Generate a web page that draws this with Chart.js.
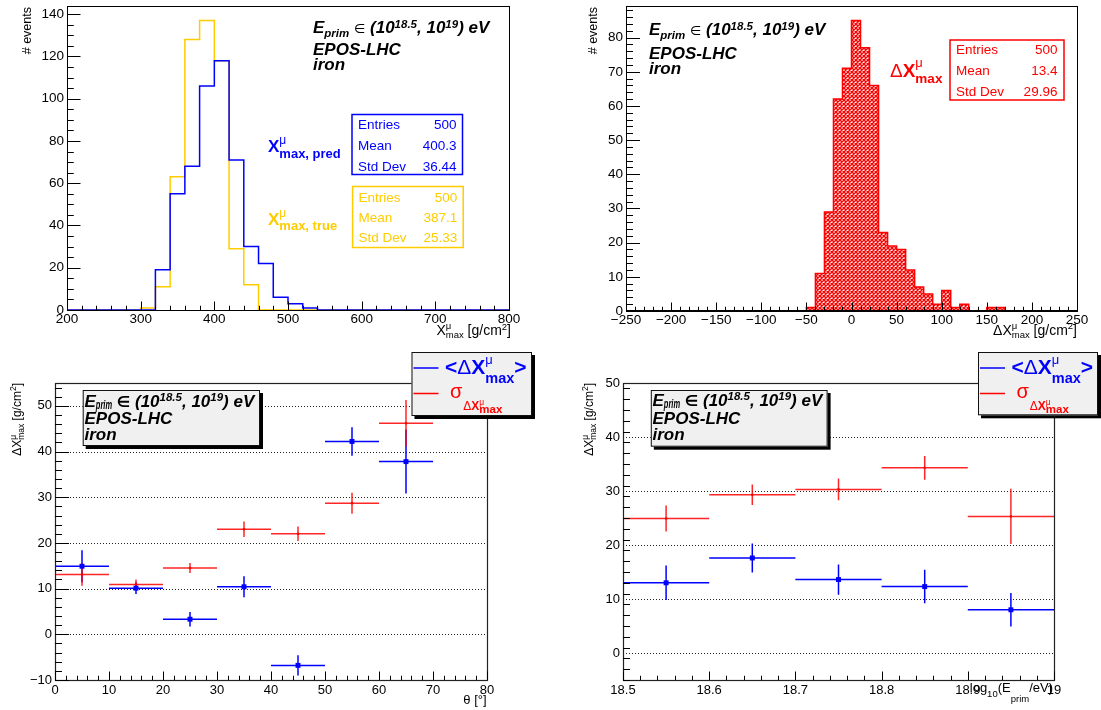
<!DOCTYPE html>
<html>
<head>
<meta charset="utf-8">
<script src="https://cdn.jsdelivr.net/npm/chart.js@4.4.1/dist/chart.umd.min.js"></script>
<style>
  html, body { margin: 0; padding: 0; background: #fff; }
  #wrap { position: relative; width: 1101px; height: 710px; overflow: hidden; background: #fff; }
  #wrap canvas { position: absolute; left: 0; top: 0; }
</style>
</head>
<body>
<div id="wrap">
  <canvas id="cXmax" width="1101" height="710"></canvas>
  <canvas id="cDelta" width="1101" height="710"></canvas>
  <canvas id="cTheta" width="1101" height="710"></canvas>
  <canvas id="cEnergy" width="1101" height="710"></canvas>
</div>
<script>
// ---------- data ----------
// X_max^mu histograms: bin edges [g/cm^2] and counts per bin
const xmaxEdges = [200, 220, 240, 260, 280, 300, 320, 340, 360, 380, 400, 420, 440, 460, 480, 500,
                   520, 540, 560, 580, 600, 620, 640, 660, 680, 700, 720, 740, 760, 780, 800];
const xmaxPred = [0, 0, 0, 0, 0, 0, 19, 55, 68, 106, 118, 71, 30, 22, 6, 3,
                  1, 0, 0, 0, 0, 0, 0, 0, 0, 0, 0, 0, 0, 0];
const xmaxTrue = [0, 0, 0, 0, 0, 1, 11, 63, 128, 137, 118, 29, 12, 0, 0, 0,
                  0, 0, 0, 0, 0, 0, 0, 0, 0, 0, 0, 0, 0, 0];
const predStats = ['500', '400.3', '36.44'];
const trueStats = ['500', '387.1', '25.33'];

// Delta X_max^mu histogram
const dxEdges = [-250, -240, -230, -220, -210, -200, -190, -180, -170, -160, -150, -140, -130, -120, -110,
                 -100, -90, -80, -70, -60, -50, -40, -30, -20, -10, 0, 10, 20, 30, 40, 50, 60, 70, 80, 90,
                 100, 110, 120, 130, 140, 150, 160, 170, 180, 190, 200, 210, 220, 230, 240, 250];
const dxCounts = [0, 0, 0, 0, 0, 0, 0, 0, 0, 0, 0, 0, 0, 0, 0, 0, 0, 0, 0, 0,
                  1, 11, 29, 62, 71, 85, 77, 66, 23, 19, 18, 12, 7, 5, 2, 6, 1, 2, 0, 0, 1, 1,
                  0, 0, 0, 0, 0, 0, 0, 0];
const dxStats = ['500', '13.4', '29.96'];
const statNames = ['Entries', 'Mean', 'Std Dev'];

// bias and resolution vs zenith angle
const thetaEdges = [0, 10, 20, 30, 40, 50, 60, 70];
const thetaMean = [14.9, 10.1, 3.3, 10.4, -6.8, 42.2, 37.8];
const thetaMeanErr = [3.5, 1.3, 1.6, 2.3, 2.2, 3.1, 7.0];
const thetaSigma = [13.1, 10.9, 14.5, 23.0, 22.0, 28.7, 46.2];
const thetaSigmaErr = [2.5, 1.1, 1.1, 1.7, 1.6, 2.3, 5.1];

// bias and resolution vs primary energy
const energyEdges = [18.5, 18.6, 18.7, 18.8, 18.9, 19.0];
const energyMean = [13.0, 17.6, 13.6, 12.3, 8.0];
const energyMeanErr = [3.2, 2.7, 2.8, 3.1, 3.1];
const energySigma = [24.9, 29.3, 30.3, 34.3, 25.3];
const energySigmaErr = [2.4, 1.9, 2.0, 2.2, 5.1];

// tick labels
const xmaxTicksX = [200, 300, 400, 500, 600, 700, 800];
const xmaxTicksY = [0, 20, 40, 60, 80, 100, 120, 140];
const dxTicksX = [-250, -200, -150, -100, -50, 0, 50, 100, 150, 200, 250];
const dxTicksY = [0, 10, 20, 30, 40, 50, 60, 70, 80];
const thetaTicksX = [0, 10, 20, 30, 40, 50, 60, 70, 80];
const thetaTicksY = [-10, 0, 10, 20, 30, 40, 50];
const energyTicksX = [18.5, 18.6, 18.7, 18.8, 18.9, 19];
const energyTicksY = [0, 10, 20, 30, 40, 50];

const MODEL = 'EPOS-LHC';
const PRIMARY = 'iron';

// ---------- helpers ----------
const FF = '"Liberation Sans", Arial, "DejaVu Sans", sans-serif';
const F = (s, st) => (st ? st + ' ' : '') + s + 'px ' + FF;
const BLUE = '#0000ff', YEL = '#ffcc00', RED = '#ff0000';

const fmtTick = v => (v < 0 ? '\u2212' + Math.abs(v) : String(v));

function rich(ctx, x, y, runs, align) {
  ctx.save();
  ctx.textAlign = 'left';
  ctx.textBaseline = 'alphabetic';
  let total = 0;
  for (const r of runs) {
    ctx.font = r.f;
    r.w = ctx.measureText(r.t).width * (r.sx || 1);
    if (r.adv !== false) total += r.w;
  }
  let cx = align === 'right' ? x - total : x;
  for (const r of runs) {
    ctx.font = r.f;
    if (r.c) ctx.fillStyle = r.c;
    if (r.sx) {
      ctx.save();
      ctx.translate(cx, y + (r.dy || 0));
      ctx.scale(r.sx, 1);
      ctx.fillText(r.t, 0, 0);
      ctx.restore();
    } else {
      ctx.fillText(r.t, cx, y + (r.dy || 0));
    }
    if (r.adv !== false) cx += r.w;
  }
  ctx.restore();
}

function richUp(ctx, bx, top, runs) {
  ctx.save();
  ctx.translate(bx, top);
  ctx.rotate(-Math.PI / 2);
  rich(ctx, 0, 0, runs, 'right');
  ctx.restore();
}

function linAxis(min, max, tickVals, fit, size, pad) {
  return {
    type: 'linear', min, max,
    grid: { display: false, drawTicks: false },
    border: { display: false },
    afterBuildTicks: s => { s.ticks = tickVals.map(v => ({ value: v })); },
    afterFit: fit,
    ticks: {
      autoSkip: false, maxRotation: 0, minRotation: 0, padding: pad, color: '#000',
      font: { family: FF, size }, callback: v => fmtTick(v)
    }
  };
}
const fitY = w => s => { s.width = w; s.paddingTop = 0; s.paddingBottom = 0; };
const fitX = h => s => { s.height = h; s.paddingLeft = 0; s.paddingRight = 0; };

function stepPoints(edges, counts) {
  const pts = [{ x: edges[0], y: 0 }];
  counts.forEach((c, i) => pts.push({ x: edges[i], y: c }));
  pts.push({ x: edges[edges.length - 1], y: 0 });
  return pts;
}

function drawFrame(chart, width, color) {
  const { ctx, chartArea: a } = chart;
  ctx.save();
  ctx.strokeStyle = color || '#000';
  ctx.lineWidth = width || 1;
  ctx.strokeRect(Math.round(a.left) + 0.5, Math.round(a.top) + 0.5,
                 Math.round(a.right - a.left), Math.round(a.bottom - a.top));
  ctx.restore();
}

function drawTicks(chart, t) {
  const { ctx, chartArea: a, scales: { x, y } } = chart;
  const isMajor = (v, m) => m.some(q => Math.abs(q - v) < 1e-6);
  const each = (min, max, step, fn) => {
    const n = Math.floor((max - min) / step + 1e-6);
    for (let k = 0; k <= n; k++) fn(+(min + k * step).toFixed(6));
  };
  ctx.save();
  ctx.strokeStyle = '#000';
  ctx.lineWidth = 1;
  ctx.beginPath();
  each(x.min, x.max, t.xMinor, v => {
    const px = Math.round(x.getPixelForValue(v)) + 0.5;
    const len = isMajor(v, t.xMajors) ? t.xLen : t.xLen / 2;
    ctx.moveTo(px, a.bottom); ctx.lineTo(px, a.bottom - len);
  });
  each(y.min, y.max, t.yMinor, v => {
    const py = Math.round(y.getPixelForValue(v)) + 0.5;
    const len = isMajor(v, t.yMajors) ? t.yLen : t.yLen / 2;
    ctx.moveTo(a.left, py); ctx.lineTo(a.left + len, py);
  });
  ctx.stroke();
  ctx.restore();
}

function dottedGrid(chart, vals) {
  const { ctx, chartArea: a, scales: { y } } = chart;
  ctx.save();
  ctx.strokeStyle = '#222';
  ctx.lineWidth = 1;
  ctx.setLineDash([1, 2]);
  ctx.beginPath();
  vals.forEach(v => {
    const py = Math.round(y.getPixelForValue(v)) + 0.5;
    if (py > a.top + 1 && py < a.bottom - 1) { ctx.moveTo(a.left, py); ctx.lineTo(a.right, py); }
  });
  ctx.stroke();
  ctx.restore();
}

function errorBars(chart, edges, vals, errs, color) {
  const { ctx, scales: { x, y } } = chart;
  ctx.save();
  ctx.strokeStyle = color;
  ctx.lineWidth = 1.5;
  ctx.beginPath();
  vals.forEach((v, i) => {
    const c = (edges[i] + edges[i + 1]) / 2;
    const py = y.getPixelForValue(v), px = x.getPixelForValue(c);
    ctx.moveTo(x.getPixelForValue(edges[i]), py);
    ctx.lineTo(x.getPixelForValue(edges[i + 1]), py);
    ctx.moveTo(px, y.getPixelForValue(v - errs[i]));
    ctx.lineTo(px, y.getPixelForValue(v + errs[i]));
  });
  ctx.stroke();
  ctx.restore();
}

function statsBox(ctx, b) {
  ctx.save();
  ctx.strokeStyle = b.color;
  ctx.lineWidth = 1.5;
  ctx.strokeRect(b.x, b.y, b.w, b.h);
  ctx.fillStyle = b.color;
  ctx.font = F(13.5);
  statNames.forEach((n, i) => {
    ctx.textAlign = 'left'; ctx.fillText(n, b.tx, b.base[i]);
    ctx.textAlign = 'right'; ctx.fillText(b.vals[i], b.vx, b.base[i]);
  });
  ctx.restore();
}

function shadowBox(ctx, x, y, w, h) {
  ctx.save();
  ctx.fillStyle = '#000';
  ctx.fillRect(x + 3, y + 3, w, h);
  ctx.fillStyle = '#f0f0f0';
  ctx.fillRect(x, y, w, h);
  ctx.strokeStyle = '#111';
  ctx.lineWidth = 1;
  ctx.strokeRect(x + 0.5, y + 0.5, w - 1, h - 1);
  ctx.restore();
}

// energy / model / primary annotation
function infoText(ctx, x, bases, boxed) {
  const bi = F(17, 'italic bold'), sm = F(11.5, 'italic bold');
  const line1 = [
    { t: 'E', f: bi },
    boxed ? { t: 'prim', f: F(12.5, 'italic bold'), dy: 2.5, sx: 0.6 } : { t: 'prim', f: sm, dy: 4 },
    { t: ' ', f: bi },
    { t: '\u2208', f: boxed ? F(15, 'bold') : F(13) },
    { t: ' (10', f: bi },
    { t: '18.5', f: sm, dy: -5.5 },
    { t: ', 10', f: bi },
    { t: '19', f: sm, dy: -5.5 },
    { t: ') eV', f: bi }
  ];
  ctx.save();
  ctx.fillStyle = '#000';
  rich(ctx, x, bases[0], line1);
  ctx.font = bi;
  ctx.textAlign = 'left';
  ctx.fillText(MODEL, x, bases[1]);
  ctx.fillText(PRIMARY, x, bases[2]);
  ctx.restore();
}

// ΔX^μ_max axis title runs
const dxTitleRuns = (s, sub) => [
  { t: '\u0394', f: F(s) }, { t: 'X', f: F(s) },
  { t: '\u03bc', f: F(sub), dy: -s * 0.42, adv: false },
  { t: 'max', f: F(sub), dy: s * 0.22 },
  { t: ' [g/cm', f: F(s) }, { t: '2', f: F(sub), dy: -s * 0.4 }, { t: ']', f: F(s) }
];

function legendBox(ctx, x0, y0, w, h) {
  shadowBox(ctx, x0, y0, w, h);
  ctx.save();
  ctx.lineWidth = 1.5;
  ctx.strokeStyle = BLUE;
  ctx.beginPath(); ctx.moveTo(x0 + 2, y0 + 16); ctx.lineTo(x0 + 27, y0 + 16); ctx.stroke();
  ctx.strokeStyle = RED;
  ctx.beginPath(); ctx.moveTo(x0 + 2, y0 + 41.5); ctx.lineTo(x0 + 27, y0 + 41.5); ctx.stroke();
  ctx.fillStyle = BLUE;
  rich(ctx, x0 + 33.5, y0 + 21.5, [
    { t: '<', f: F(21, 'bold') }, { t: '\u0394', f: F(21) }, { t: 'X', f: F(21, 'bold') },
    { t: '\u03bc', f: F(13), dy: -10, adv: false },
    { t: 'max', f: F(14.5, 'bold'), dy: 9 },
    { t: '>', f: F(21, 'bold') }
  ]);
  ctx.fillStyle = RED;
  rich(ctx, x0 + 38.5, y0 + 46.3, [{ t: '\u03c3', f: F(20) }]);
  rich(ctx, x0 + 51.8, y0 + 58, [
    { t: '\u0394', f: F(12) }, { t: 'X', f: F(12, 'bold') },
    { t: '\u03bc', f: F(8.5), dy: -5, adv: false },
    { t: 'max', f: F(11.5, 'bold'), dy: 3 }
  ]);
  ctx.restore();
}

const baseOptions = (pad, scales) => ({
  responsive: false, animation: false, devicePixelRatio: 1, events: [],
  layout: { padding: pad },
  plugins: { legend: { display: false }, tooltip: { enabled: false } },
  scales
});

// ---------- top left: X_max^mu predicted vs true ----------
new Chart(document.getElementById('cXmax'), {
  type: 'line',
  data: {
    datasets: [
      { data: stepPoints(xmaxEdges, xmaxPred), borderColor: BLUE, borderWidth: 1.5, stepped: true,
        pointRadius: 0, fill: false },
      { data: stepPoints(xmaxEdges, xmaxTrue), borderColor: YEL, borderWidth: 1.5, stepped: true,
        pointRadius: 0, fill: false }
    ]
  },
  options: baseOptions({ left: 0, right: 592, top: 6, bottom: 370 }, {
    x: linAxis(200, 800, xmaxTicksX, fitX(30), 13.5, 1),
    y: linAxis(0, 143.85, xmaxTicksY, fitY(67), 13.5, 3)
  }),
  plugins: [{
    id: 'decoXmax',
    beforeDatasetsDraw(chart) { drawFrame(chart); },
    afterDatasetsDraw(chart) {
      drawTicks(chart, { xMajors: xmaxTicksX, xMinor: 20, xLen: 8.5, yMajors: xmaxTicksY, yMinor: 5, yLen: 13.5 });
    },
    afterDraw(chart) {
      const ctx = chart.ctx;
      statsBox(ctx, { x: 352, y: 114.5, w: 110.5, h: 60, color: BLUE, vals: predStats,
                      tx: 358, vx: 456.6, base: [129.3, 150, 170.7] });
      statsBox(ctx, { x: 352.6, y: 186.5, w: 110.6, h: 61, color: YEL, vals: trueStats,
                      tx: 358.6, vx: 457.2, base: [201.7, 221.7, 242.3] });
      ctx.save();
      ctx.fillStyle = BLUE;
      rich(ctx, 268, 152, [
        { t: 'X', f: F(17, 'bold') }, { t: '\u03bc', f: F(12), dy: -8, adv: false },
        { t: 'max, pred', f: F(13, 'bold'), dy: 5.5 }
      ]);
      ctx.fillStyle = YEL;
      rich(ctx, 268, 225.3, [
        { t: 'X', f: F(17, 'bold') }, { t: '\u03bc', f: F(12), dy: -8, adv: false },
        { t: 'max, true', f: F(13, 'bold'), dy: 5 }
      ]);
      ctx.restore();
      infoText(ctx, 313, [33, 55, 70], false);
      ctx.save();
      ctx.fillStyle = '#000';
      richUp(ctx, 31, 7, [{ t: '# events', f: F(12.5) }]);
      rich(ctx, 511, 335, [
        { t: 'X', f: F(14) }, { t: '\u03bc', f: F(9.5), dy: -6, adv: false },
        { t: 'max', f: F(9.5), dy: 3 },
        { t: ' [g/cm', f: F(14) }, { t: '2', f: F(9.5), dy: -5.5 }, { t: ']', f: F(14) }
      ], 'right');
      ctx.restore();
    }
  }]
});

// ---------- top right: Delta X_max^mu ----------
function hatch(ctx) {
  const c = document.createElement('canvas');
  c.width = 4; c.height = 4;
  const g = c.getContext('2d');
  g.strokeStyle = RED;
  g.lineWidth = 1.4;
  g.beginPath();
  for (let k = -2; k <= 2; k++) {
    g.moveTo(-4, -4 + 4 * k); g.lineTo(8, 8 + 4 * k);
    g.moveTo(-4, 8 + 4 * k); g.lineTo(8, -4 + 4 * k);
  }
  g.stroke();
  return ctx.createPattern(c, 'repeat');
}
const deltaCanvas = document.getElementById('cDelta');
new Chart(deltaCanvas, {
  type: 'line',
  data: {
    datasets: [
      { data: stepPoints(dxEdges, dxCounts), borderColor: RED, borderWidth: 1.5, stepped: true,
        pointRadius: 0, fill: 'origin', backgroundColor: hatch(deltaCanvas.getContext('2d')) }
    ]
  },
  options: baseOptions({ left: 566, right: 24, top: 6, bottom: 369 }, {
    x: linAxis(-250, 250, dxTicksX, fitX(30), 13.5, 1),
    y: linAxis(0, 89.25, dxTicksY, fitY(60), 13.5, 3)
  }),
  plugins: [{
    id: 'decoDelta',
    afterDatasetsDraw(chart) {
      drawFrame(chart);
      const { ctx, chartArea: a } = chart;
      ctx.save();
      ctx.strokeStyle = '#000';
      ctx.lineWidth = 2;
      ctx.beginPath(); ctx.moveTo(a.left, a.bottom); ctx.lineTo(a.right, a.bottom); ctx.stroke();
      ctx.restore();
      drawTicks(chart, { xMajors: dxTicksX, xMinor: 10, xLen: 8.5, yMajors: dxTicksY, yMinor: 2, yLen: 14 });
    },
    afterDraw(chart) {
      const ctx = chart.ctx;
      statsBox(ctx, { x: 950, y: 40, w: 114, h: 60, color: RED, vals: dxStats,
                      tx: 956, vx: 1057.4, base: [54.3, 75.3, 95.7] });
      ctx.save();
      ctx.fillStyle = RED;
      rich(ctx, 890, 77, [
        { t: '\u0394', f: F(19) }, { t: 'X', f: F(19, 'bold') },
        { t: '\u03bc', f: F(13), dy: -10, adv: false },
        { t: 'max', f: F(13.5, 'bold'), dy: 6 }
      ]);
      ctx.restore();
      infoText(ctx, 649, [35, 58.5, 74], false);
      ctx.save();
      ctx.fillStyle = '#000';
      richUp(ctx, 597, 7, [{ t: '# events', f: F(12.5) }]);
      rich(ctx, 1077, 335, dxTitleRuns(14, 9.5), 'right');
      ctx.restore();
    }
  }]
});

// ---------- bottom left: vs zenith angle ----------
const mid = (e, i) => (e[i] + e[i + 1]) / 2;
new Chart(document.getElementById('cTheta'), {
  type: 'scatter',
  data: {
    datasets: [
      { data: thetaMean.map((v, i) => ({ x: mid(thetaEdges, i), y: v })), pointStyle: 'rect',
        pointRadius: 3.5, backgroundColor: BLUE, borderWidth: 0 },
      { data: thetaSigma.map((v, i) => ({ x: mid(thetaEdges, i), y: v })), pointStyle: 'circle',
        pointRadius: 1.3, backgroundColor: RED, borderWidth: 0 }
    ]
  },
  options: baseOptions({ left: 0, right: 614, top: 383, bottom: 5 }, {
    x: linAxis(0, 80, thetaTicksX, fitX(25), 13, 3),
    y: linAxis(-10, 55, thetaTicksY, fitY(55), 13, 3)
  }),
  plugins: [{
    id: 'decoTheta',
    beforeDatasetsDraw(chart) {
      dottedGrid(chart, thetaTicksY);
      errorBars(chart, thetaEdges, thetaMean, thetaMeanErr, BLUE);
      errorBars(chart, thetaEdges, thetaSigma, thetaSigmaErr, 'rgba(255,0,0,0.85)');
    },
    afterDatasetsDraw(chart) {
      drawFrame(chart, 1.2, '#222');
      drawTicks(chart, { xMajors: thetaTicksX, xMinor: 2, xLen: 8.5, yMajors: thetaTicksY, yMinor: 2, yLen: 14 });
    },
    afterDraw(chart) {
      const ctx = chart.ctx;
      shadowBox(ctx, 82.7, 390, 177.3, 56);
      infoText(ctx, 84.5, [406.5, 424.3, 440], true);
      legendBox(ctx, 411.5, 352, 120.5, 64);
      ctx.save();
      ctx.fillStyle = '#000';
      richUp(ctx, 21, 383, dxTitleRuns(12, 8.5));
      rich(ctx, 486.6, 704, [{ t: '\u03b8 [\u00b0]', f: F(13) }], 'right');
      ctx.restore();
    }
  }]
});

// ---------- bottom right: vs primary energy ----------
new Chart(document.getElementById('cEnergy'), {
  type: 'scatter',
  data: {
    datasets: [
      { data: energyMean.map((v, i) => ({ x: mid(energyEdges, i), y: v })), pointStyle: 'rect',
        pointRadius: 3.5, backgroundColor: BLUE, borderWidth: 0 },
      { data: energySigma.map((v, i) => ({ x: mid(energyEdges, i), y: v })), pointStyle: 'circle',
        pointRadius: 1.3, backgroundColor: RED, borderWidth: 0 }
    ]
  },
  options: baseOptions({ left: 563, right: 47, top: 383, bottom: 5 }, {
    x: linAxis(18.5, 19, energyTicksX, fitX(25), 13, 3),
    y: linAxis(-5, 50, energyTicksY, fitY(60), 13, 3)
  }),
  plugins: [{
    id: 'decoEnergy',
    beforeDatasetsDraw(chart) {
      dottedGrid(chart, energyTicksY);
      errorBars(chart, energyEdges, energyMean, energyMeanErr, BLUE);
      errorBars(chart, energyEdges, energySigma, energySigmaErr, 'rgba(255,0,0,0.85)');
    },
    afterDatasetsDraw(chart) {
      drawFrame(chart, 1.2, '#222');
      drawTicks(chart, { xMajors: energyTicksX, xMinor: 0.02, xLen: 8.5, yMajors: energyTicksY, yMinor: 2, yLen: 14 });
    },
    afterDraw(chart) {
      const ctx = chart.ctx;
      shadowBox(ctx, 650.8, 390, 176.8, 56.7);
      infoText(ctx, 652.5, [405.5, 423.5, 440], true);
      legendBox(ctx, 978, 352, 120, 63.3);
      ctx.save();
      ctx.fillStyle = '#000';
      richUp(ctx, 593, 383, dxTitleRuns(12, 8.5));
      rich(ctx, 1053, 692, [
        { t: 'log', f: F(13) }, { t: '10', f: F(9.5), dy: 5 },
        { t: '(E', f: F(13) }, { t: 'prim', f: F(9.5), dy: 10 }, { t: '/eV)', f: F(13) }
      ], 'right');
      ctx.restore();
    }
  }]
});
</script>
</body>
</html>
